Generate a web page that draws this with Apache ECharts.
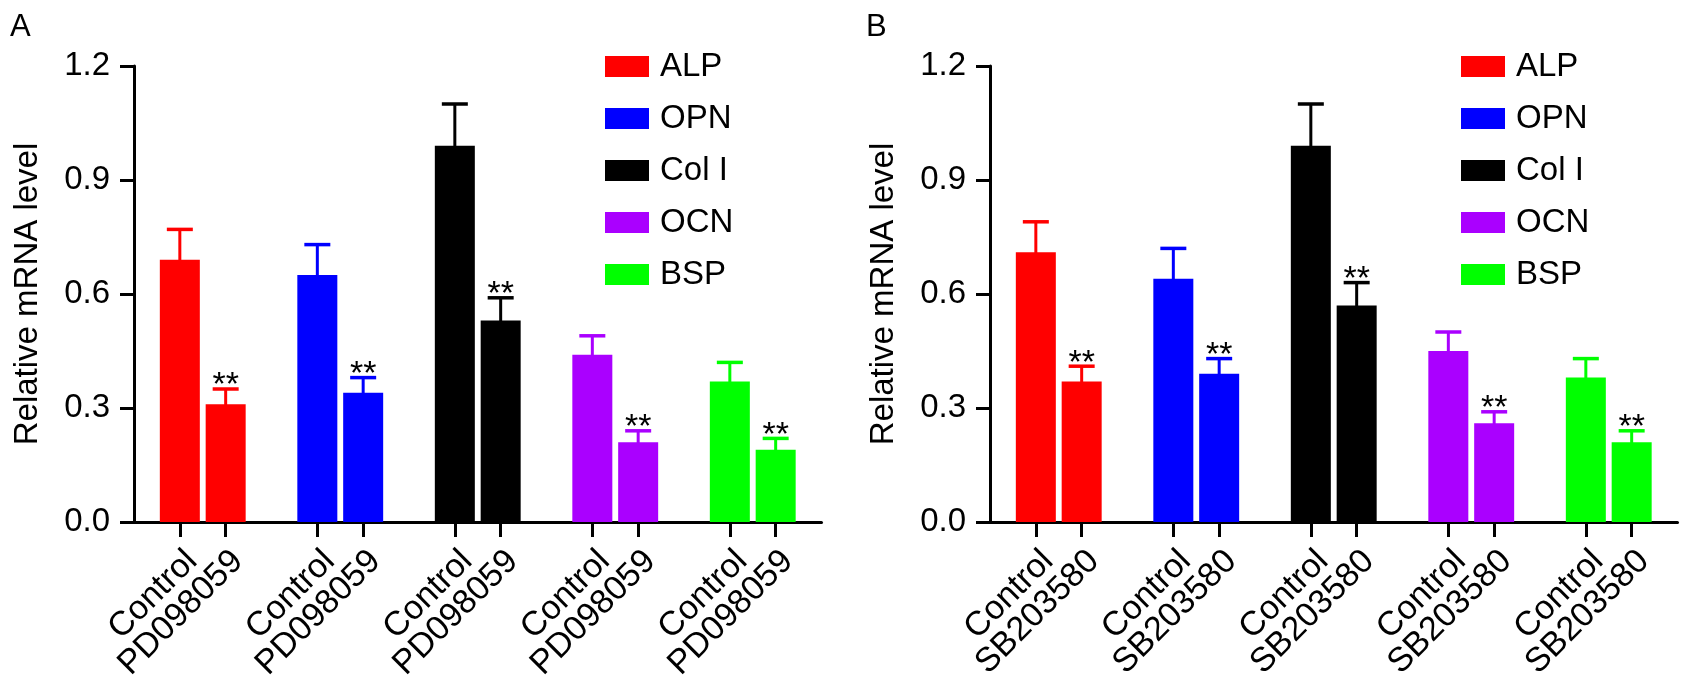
<!DOCTYPE html>
<html>
<head>
<meta charset="utf-8">
<script src="https://cdn.jsdelivr.net/npm/echarts@6/dist/echarts.min.js"></script>
<style>
html,body{margin:0;padding:0;background:#fff;}
#chart{width:1692px;height:686px;}
</style>
</head>
<body>
<div id="chart"></div>
<script>
// ---- data ----
const genes = ['ALP', 'OPN', 'Col I', 'OCN', 'BSP'];
const panelLabels = ['A', 'B'];
const treatments = ['PD098059', 'SB203580'];
const controlLabel = 'Control';
const yTitle = 'Relative mRNA level';

const ctrlA    = [0.69, 0.65, 0.99, 0.44, 0.37];
const ctrlErrA = [0.08, 0.08, 0.11, 0.05, 0.05];
const trtA     = [0.31, 0.34, 0.53, 0.21, 0.19];
const trtErrA  = [0.04, 0.04, 0.06, 0.03, 0.03];
const sigA     = ['**', '**', '**', '**', '**'];

const ctrlB    = [0.71, 0.64, 0.99, 0.45, 0.38];
const ctrlErrB = [0.08, 0.08, 0.11, 0.05, 0.05];
const trtB     = [0.37, 0.39, 0.57, 0.26, 0.21];
const trtErrB  = [0.04, 0.04, 0.06, 0.03, 0.03];
const sigB     = ['**', '**', '**', '**', '**'];

const yMin = 0, yMax = 1.2, yStep = 0.3;

// ---- style ----
const colors = ['#FF0000', '#0000FF', '#000000', '#AA00FF', '#00FF00'];
const FONT = "'Liberation Sans', Arial, Helvetica, sans-serif";
const FS = 33;
const FSX = 34;

const panels = [
  {ctrl: ctrlA, ctrlErr: ctrlErrA, trt: trtA, trtErr: trtErrA, sig: sigA, trtName: treatments[0], left: 134},
  {ctrl: ctrlB, ctrlErr: ctrlErrB, trt: trtB, trtErr: trtErrB, sig: sigB, trtName: treatments[1], left: 990}
];

function tickLabels(trtName) {
  const out = [''];
  genes.forEach(() => { out.push(controlLabel, trtName, ''); });
  return out;
}

function errRender(params, api) {
  const gi = api.value(0), mean = api.value(1), err = api.value(2), side = api.value(3), sig = api.value(4);
  const base = api.coord([gi, mean]);
  const band = api.size([1, 0])[0];
  const x = base[0] + side * band / 6;
  const top = api.coord([gi, mean + err])[1];
  const color = colors[gi];
  const children = [
    {type: 'line', shape: {x1: x, y1: base[1] + 1, x2: x, y2: top}, style: {stroke: color, lineWidth: 3}},
    {type: 'line', shape: {x1: x - 13, y1: top, x2: x + 13, y2: top}, style: {stroke: color, lineWidth: 3.5}}
  ];
  if (sig) {
    children.push({type: 'text', x: x, y: top - 3,
      style: {text: '**', fontSize: 34, fontFamily: FONT, fill: '#000', align: 'center', verticalAlign: 'middle'}});
  }
  return {type: 'group', children: children};
}

const grid = [], xAxis = [], yAxis = [], series = [], legend = [], title = [];
panels.forEach((p, pi) => {
  grid.push({left: p.left, top: 66, width: 687.5, height: 456, containLabel: false, outerBoundsMode: 'none'});
  // bar axis (hidden)
  xAxis.push({type: 'category', gridIndex: pi, data: genes, position: 'bottom', show: false});
  // label axis
  xAxis.push({
    type: 'category', gridIndex: pi, position: 'bottom', boundaryGap: false, data: tickLabels(p.trtName),
    axisLine: {lineStyle: {color: '#000', width: 3}},
    axisTick: {length: 15, lineStyle: {color: '#000', width: 3}, interval: (i, v) => v !== ''},
    axisLabel: {interval: 0, rotate: 45, margin: 22, fontSize: FSX, fontFamily: FONT, color: '#000',
      align: 'right', verticalAlign: 'top'},
    splitLine: {show: false}
  });
  yAxis.push({
    type: 'value', gridIndex: pi, min: yMin, max: yMax, interval: yStep,
    name: yTitle, nameLocation: 'middle', nameGap: 90, nameRotate: 90,
    nameTextStyle: {fontSize: FS, fontFamily: FONT, color: '#000'},
    axisLine: {show: true, lineStyle: {color: '#000', width: 3}},
    axisTick: {show: true, length: 14, lineStyle: {color: '#000', width: 3}},
    axisLabel: {margin: 24, fontSize: FS, fontFamily: FONT, color: '#000', formatter: v => v.toFixed(1)},
    splitLine: {show: false}
  });
  const bx = pi * 2;
  genes.forEach((g, gi) => {
    const cd = genes.map((_, k) => k === gi ? p.ctrl[k] : '-');
    const td = genes.map((_, k) => k === gi ? p.trt[k] : '-');
    series.push({type: 'bar', name: g, xAxisIndex: bx, yAxisIndex: pi, stack: 'c' + pi, data: cd,
      barWidth: 40, barGap: '14.6%', itemStyle: {color: colors[gi]}, emphasis: {disabled: true}});
    series.push({type: 'bar', name: g, xAxisIndex: bx, yAxisIndex: pi, stack: 't' + pi, data: td,
      barWidth: 40, barGap: '14.6%', itemStyle: {color: colors[gi]}, emphasis: {disabled: true}});
  });
  const errData = [];
  genes.forEach((g, gi) => {
    errData.push([gi, p.ctrl[gi], p.ctrlErr[gi], -1, 0]);
    errData.push([gi, p.trt[gi], p.trtErr[gi], 1, p.sig[gi] ? 1 : 0]);
  });
  series.push({type: 'custom', name: 'err' + pi, xAxisIndex: bx, yAxisIndex: pi, data: errData,
    renderItem: errRender, z: 5, silent: true});
  legend.push({
    orient: 'vertical', left: p.left + 471, top: 50, padding: 0,
    itemWidth: 44, itemHeight: 21, itemGap: 19, icon: 'rect',
    textStyle: {fontSize: FS, fontFamily: FONT, color: '#000', padding: [0, 0, 0, 6]},
    data: genes, selectedMode: false
  });
  title.push({text: panelLabels[pi], left: p.left - 124, top: 12, padding: 0,
    textStyle: {fontSize: 31, fontWeight: 'normal', fontFamily: FONT, color: '#000'}});
});

const chart = echarts.init(document.getElementById('chart'), null, {renderer: 'canvas'});
chart.setOption({
  animation: false,
  backgroundColor: '#fff',
  title: title,
  legend: legend,
  grid: grid,
  xAxis: xAxis,
  yAxis: yAxis,
  series: series
});
</script>
</body>
</html>
